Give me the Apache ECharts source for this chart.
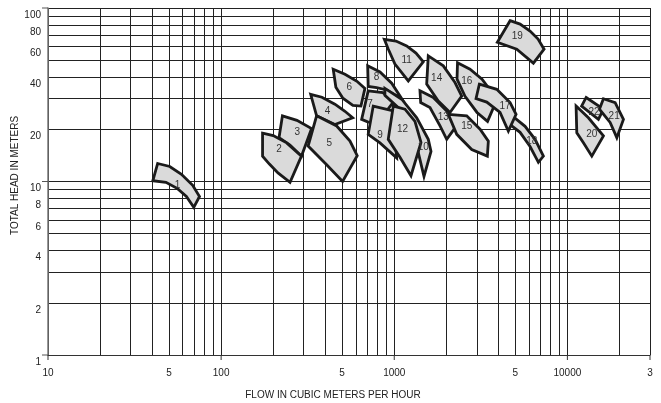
<!DOCTYPE html>
<html><head><meta charset="utf-8">
<script src="https://cdn.jsdelivr.net/npm/echarts@6/dist/echarts.min.js"></script>
<style>html,body{margin:0;padding:0;background:#fff}#c{width:661px;height:403px}</style>
</head><body><div id="c"></div>
<script>
// ---- axes ----
const xTickValues = [10,20,30,40,50,60,70,80,90,100,200,300,400,500,600,700,800,900,1000,2000,3000,4000,5000,6000,7000,8000,9000,10000,20000,30000];
const xLabelValues = [10,50,100,500,1000,5000,10000,30000];
const xLabelTexts = ['10','5','100','5','1000','5','10000','3'];
const xDecadeTicks = [10,100,1000,10000,30000];
const yTickValues = [1,2,3,4,5,6,7,8,9,10,20,30,40,50,60,70,80,90,100];
const yLabelValues = [1,2,4,6,8,10,20,40,60,80,100];
const yLabelTexts = ['1','2','4','6','8','10','20','40','60','80','100'];
const yDecadeTicks = [1,10,100];

// ---- pump envelopes: [flow m3/h, head m] ----
const pump1 = [[43,12.7],[50.5,12.2],[59,11],[68.5,9.5],[75,8.2],[69.5,7.1],[63,8.2],[56,9.1],[48,9.9],[40.3,10.1]];
const pump2 = [[173.5,19],[200,18.4],[239,16.7],[291,14],[250,9.9],[213,11.2],[190,12.6],[173.5,14]];
const pump3 = [[226,23.9],[274,22.5],[333,20.2],[291,14],[250,16.2],[216,17.9]];
const pump4 = [[329,31.8],[382,30.6],[454,27.9],[519,25.4],[575,23.3],[454,21.3],[356,23.9]];
const pump5 = [[356,23.9],[465,20.9],[555,17.1],[611,14.1],[503,10],[407,12.5],[318,16]];
const pump6 = [[444,44.4],[519,41.5],[609,37.8],[677,34.4],[642,27.2],[577,27.5],[505,30.2],[460,34.9]];
const pump7 = [[707,33.3],[860,32.5],[995,29],[805,21.9],[707,22],[648,22.8]];
const pump8 = [[702,46.4],[827,42.8],[966,36.9],[1104,30],[904,33.7],[791,34.8],[707,35.3]];
const pump9 = [[756,27.2],[987,25.5],[1032,13.7],[827,16.7],[707,18.7]];
const pump10 = [[883,34.4],[1104,29.8],[1348,23.3],[1572,17.5],[1630,14.9],[1485,10.7],[1371,14.9],[1266,20],[1079,26.1],[883,31.4]];
const pump11 = [[876,66],[1023,64.5],[1179,60.5],[1335,55],[1471,49],[1205,38],[1009,47.5],[923,58]];
const pump12 = [[987,27.2],[1153,26.1],[1317,22.2],[1427,16.8],[1249,10.8],[1079,13.8],[923,17.5]];
const pump13 = [[1408,33.3],[1680,30.5],[2009,25.5],[2243,20.4],[2009,17.5],[1838,20.9],[1608,26.7],[1421,28.5]];
const pump14 = [[1572,53],[1920,46.4],[2243,37.2],[2453,31.1],[2099,25],[1796,29.1],[1539,36.4]];
const pump15 = [[2052,24.4],[2621,23.9],[3130,20],[3495,17.1],[3449,14],[2802,15.3],[2295,18.7]];
const pump16 = [[2319,48.4],[2739,44.4],[3213,38.9],[3924,29.8],[3457,22.2],[3006,25],[2563,31],[2304,38.9]];
const pump17 = [[3100,36.4],[3908,34],[4666,28.5],[5053,24.4],[4560,19.5],[4083,25],[3421,28.7],[2967,30.1]];
const pump18 = [[4919,23.4],[5696,20.8],[6506,17.5],[7266,14],[6799,12.9],[6087,15.9],[5329,19.2],[4666,21.3]];
const pump19 = [[4666,84.5],[5329,80.8],[6087,73.6],[6771,66.2],[7333,57.9],[6361,48.1],[5099,57.9],[3939,63.4]];
const pump20 = [[11227,27.2],[13224,23.3],[16150,18.3],[13836,14],[12377,16.7],[11331,19.1]];
const pump21 = [[16150,30],[18870,28.5],[21074,22.8],[19300,17.9],[17655,21.9],[15310,26.1]];
const pump22 = [[12830,30.5],[16150,26.1],[15106,22.8],[12081,27.2]];

// ---- number labels ----
const labelFlow = [56,216,275,412,421,550,724,791,827,1471,1179,1115,1920,1758,2621,2621,4364,6226,5140,13836,18620,14265];
const labelHead = [9.5,15.3,19.1,25.5,16.7,34.8,27.9,39.8,18.45,15.7,50,19.9,23.4,39.4,20.7,38,27,17.1,68.6,18.7,23.9,25.2];
const drawOrder = [1,3,2,4,5,6,8,7,10,9,12,11,13,14,15,16,18,17,19,22,20,21];

const shapes = [pump1,pump2,pump3,pump4,pump5,pump6,pump7,pump8,pump9,pump10,pump11,pump12,pump13,pump14,pump15,pump16,pump17,pump18,pump19,pump20,pump21,pump22];
const FONT = '"Liberation Sans", Arial, Helvetica, sans-serif';

function nearestText(vals, texts, v) {
  let best = 0, bd = Infinity;
  vals.forEach((t, i) => { const d = Math.abs(Math.log(t) - Math.log(v)); if (d < bd) { bd = d; best = i; } });
  return texts[best];
}

const chart = echarts.init(document.getElementById('c'), null, {renderer: 'canvas'});
chart.setOption({
  backgroundColor: '#fff',
  animation: false,
  grid: {left: 48, right: 11, top: 8, bottom: 48, containLabel: false, outerBoundsMode: 'none'},
  xAxis: {
    type: 'log', logBase: 10, min: 10, max: 30000,
    axisLine: {show: true, lineStyle: {color: '#333', width: 1}},
    axisTick: {show: false, customValues: xTickValues},
    minorTick: {show: false}, minorSplitLine: {show: false},
    splitLine: {show: true, lineStyle: {color: '#222', width: 1}},
    axisLabel: {customValues: xLabelValues, formatter: v => nearestText(xLabelValues, xLabelTexts, v),
      fontSize: 10, color: '#222', margin: 13, fontFamily: FONT},
    name: 'FLOW IN CUBIC METERS PER HOUR', nameLocation: 'middle', nameGap: 35, nameMoveOverlap: false,
    nameTextStyle: {fontSize: 10, color: '#222', fontFamily: FONT, padding: [0, 32, 0, 0]}
  },
  yAxis: {
    type: 'log', logBase: 10, min: 1, max: 100,
    axisLine: {show: true, lineStyle: {color: '#777', width: 1.5}},
    axisTick: {show: false, customValues: yTickValues},
    minorTick: {show: false}, minorSplitLine: {show: false},
    splitLine: {show: true, lineStyle: {color: '#222', width: 1}},
    axisLabel: {customValues: yLabelValues, formatter: v => nearestText(yLabelValues, yLabelTexts, v),
      fontSize: 10, color: '#222', margin: 7, verticalAlign: 'top', lineHeight: 14, fontFamily: FONT},
    name: 'TOTAL HEAD IN METERS', nameLocation: 'middle', nameGap: 28, nameMoveOverlap: false,
    nameTextStyle: {fontSize: 10, color: '#222', fontFamily: FONT, padding: [0, 0, 0, 12]}
  },
  series: [
    {
      type: 'custom', coordinateSystem: 'cartesian2d', silent: true, clip: false, z: 2,
      data: xDecadeTicks.map(v => [v, 1]),
      encode: {x: 0, y: 1},
      renderItem: (params, api) => {
        const p = api.coord([api.value(0), api.value(1)]);
        return {type: 'line', shape: {x1: p[0], y1: p[1], x2: p[0], y2: p[1] + 5}, style: {stroke: '#333', lineWidth: 1}};
      }
    },
    {
      type: 'custom', coordinateSystem: 'cartesian2d', silent: true, clip: false, z: 2,
      data: yDecadeTicks.map(v => [10, v]),
      encode: {x: 0, y: 1},
      renderItem: (params, api) => {
        const p = api.coord([api.value(0), api.value(1)]);
        return {type: 'line', shape: {x1: p[0] - 6, y1: p[1], x2: p[0], y2: p[1]}, style: {stroke: '#555', lineWidth: 1}};
      }
    },
    {
      type: 'custom', coordinateSystem: 'cartesian2d', silent: true, z: 3,
      data: drawOrder.map(n => [labelFlow[n - 1], labelHead[n - 1], n]),
      encode: {x: 0, y: 1},
      renderItem: (params, api) => {
        const n = api.value(2);
        const pts = shapes[n - 1].map(p => api.coord(p));
        return {type: 'polygon', shape: {points: pts},
          style: {fill: '#dadada', stroke: '#1a1a1a', lineWidth: 2.8, lineJoin: 'miter'}};
      }
    },
    {
      type: 'custom', coordinateSystem: 'cartesian2d', silent: true, z: 4,
      data: labelFlow.map((f, i) => [f, labelHead[i], i + 1]),
      encode: {x: 0, y: 1},
      renderItem: (params, api) => {
        const p = api.coord([api.value(0), api.value(1)]);
        return {type: 'text', x: p[0], y: p[1],
          style: {text: String(api.value(2)), fill: '#333', fontSize: 10, fontFamily: FONT,
            align: 'center', verticalAlign: 'middle', textAlign: 'center', textVerticalAlign: 'middle'}};
      }
    }
  ]
});
</script></body></html>
